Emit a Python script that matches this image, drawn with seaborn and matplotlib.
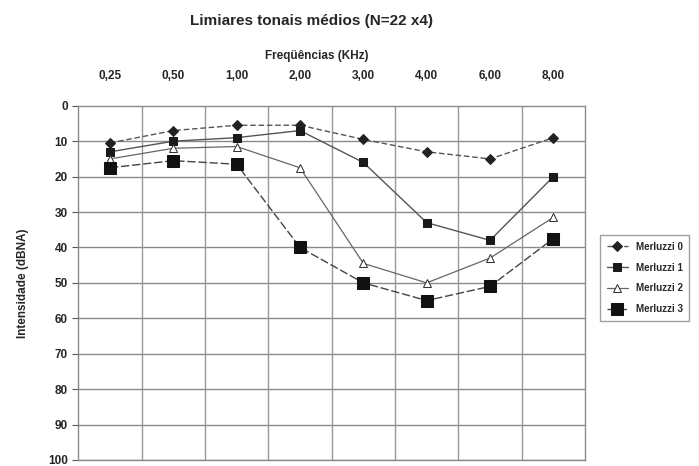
import pandas as pd
import seaborn as sns
import matplotlib.pyplot as plt

# dados (limiares em dBNA)
frequencias = ["0,25", "0,50", "1,00", "2,00", "3,00", "4,00", "6,00", "8,00"]
merluzzi_0 = [10.5, 7, 5.5, 5.5, 9.5, 13, 15, 9]
merluzzi_1 = [13, 10, 9, 7, 16, 33, 38, 20]
merluzzi_2 = [15, 12, 11.5, 17.5, 44.5, 50, 43, 31.5]
merluzzi_3 = [17.5, 15.5, 16.5, 40, 50, 55, 51, 37.5]
series = {
    "Merluzzi 0": merluzzi_0,
    "Merluzzi 1": merluzzi_1,
    "Merluzzi 2": merluzzi_2,
    "Merluzzi 3": merluzzi_3,
}

estilos = {
    "Merluzzi 0": dict(marker="D", markersize=5, markerfacecolor="#222222", markeredgecolor="#222222",
                       color="#555555", linestyle=(0, (4, 2)), linewidth=1),
    "Merluzzi 1": dict(marker="s", markersize=6.2, markerfacecolor="#1a1a1a", markeredgecolor="#1a1a1a",
                       color="#555555", linestyle="-", linewidth=1),
    "Merluzzi 2": dict(marker="^", markersize=6, markerfacecolor="white", markeredgecolor="#333333",
                       color="#666666", linestyle="-", linewidth=0.9),
    "Merluzzi 3": dict(marker="s", markersize=8, markerfacecolor="#111111", markeredgecolor="#111111",
                       color="#444444", linestyle=(0, (6, 2)), linewidth=1),
}

linhas = []
for nome, valores in series.items():
    for i, v in enumerate(valores):
        linhas.append({"pos": i, "intensidade": v, "serie": nome})
df = pd.DataFrame(linhas)

sns.set_style("white")
plt.rcParams["font.family"] = ["Liberation Sans", "DejaVu Sans"]

fig = plt.figure(figsize=(6.99, 4.66), dpi=100)
ax = fig.add_axes([0.112, 0.013, 0.725, 0.76])

for nome in series:
    sub = df[df["serie"] == nome]
    sns.lineplot(data=sub, x="pos", y="intensidade", ax=ax, label=nome, **estilos[nome])

ax.set_xlim(-0.5, len(frequencias) - 0.5)
ax.set_ylim(100, 0)
ax.set_yticks(range(0, 101, 10))
ax.set_xticks(range(len(frequencias)))
ax.set_xticklabels(frequencias)
ax.xaxis.tick_top()
ax.xaxis.set_label_position("top")
ax.tick_params(axis="x", length=0, pad=17, labelsize=8.5)
ax.tick_params(axis="y", length=4, width=0.8, color="#555555", left=True, labelsize=8.5)
for lab in ax.get_xticklabels() + ax.get_yticklabels():
    lab.set_fontweight("bold")

# grade: horizontais a cada 10 dB, verticais entre as frequências
for y in range(10, 101, 10):
    ax.axhline(y, color="#8a8a8a", linewidth=1, zorder=0)
for x in range(1, len(frequencias)):
    ax.axvline(x - 0.5, color="#9a9a9a", linewidth=1, zorder=0)
for s in ax.spines.values():
    s.set_color("#8a8a8a")
    s.set_linewidth(1)

ax.set_xlabel("Freqüências (KHz)", fontsize=8.5, fontweight="bold", labelpad=8)
ax.xaxis.label.set_x(0.47)
ax.set_ylabel("Intensidade (dBNA)", fontsize=8.5, fontweight="bold", labelpad=14)
fig.suptitle("Limiares tonais médios (N=22 x4)", fontsize=11, fontweight="bold", x=0.445, y=0.97)

ax.legend(loc="upper left", bbox_to_anchor=(0.851, 0.506), bbox_transform=fig.transFigure,
          frameon=True, fancybox=False, edgecolor="#888888", handlelength=2.2,
          borderpad=0.7, labelspacing=1.1, prop={"weight": "bold", "size": 7})

fig.savefig("out.png", dpi=100)
